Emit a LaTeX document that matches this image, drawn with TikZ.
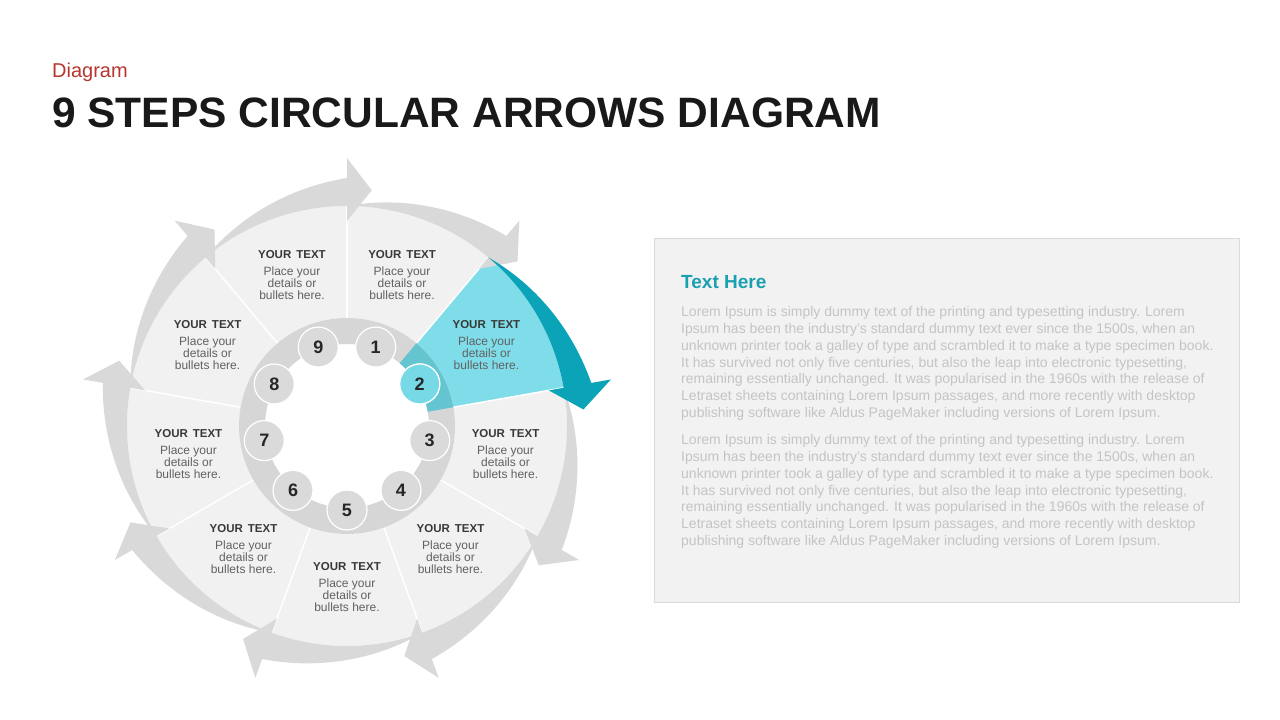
\documentclass[tikz,border=0pt]{standalone}
\usepackage{fontspec}
\setmainfont{Liberation Sans}
\usetikzlibrary{calc}
\definecolor{sectorgray}{RGB}{241,241,241}
\definecolor{arrowgray}{RGB}{217,217,217}
\definecolor{ringgray}{RGB}{214,214,214}
\definecolor{dotgray}{RGB}{218,218,218}
\definecolor{cyanlight}{RGB}{127,221,233}
\definecolor{cyanring}{RGB}{100,197,209}
\definecolor{cyandot}{RGB}{120,217,230}
\definecolor{tealdark}{RGB}{10,163,184}
\definecolor{headred}{RGB}{183,53,45}
\definecolor{headteal}{RGB}{27,160,178}
\definecolor{loremgray}{RGB}{196,196,196}
\definecolor{boxgray}{RGB}{242,242,242}
\definecolor{boxline}{RGB}{218,218,218}
\def\spiralarrow[#1](#2:#3){\fill[#1] (#2:220) arc[start angle=#2, end angle=#3, radius=220] -- (#3:205) -- ({#3-6}:237) -- (#3:268) -- (#3:248) -- plot[domain=#3:#2, samples=40] (\x:{220+28*(#2-\x)/40}) -- cycle;}
\def\wedge[#1](#2:#3:#4:#5){\fill[#1] (#2:#4) -- (#2:#5) arc[start angle=#2, end angle=#3, radius=#5] -- (#3:#4) arc[start angle=#3, end angle=#2, radius=#4] -- cycle;}
\tikzset{
  numdot/.style={circle, minimum size=40pt, inner sep=0pt, fill=dotgray, draw=white, line width=1.2pt,
    font=\fontsize{18}{18}\selectfont\bfseries, text=black!85},
  steptext/.style={align=center, inner sep=0pt, font=\fontsize{12}{12}\selectfont, text=black!62},
  lorem/.style={anchor=north west, inner sep=0pt, align=left, font=\fontsize{14}{16.9}\selectfont, text=loremgray}
}
\begin{document}
\begin{tikzpicture}[x=1pt,y=1pt]
			%%%%% START %%%%%
			\useasboundingbox (0,0) rectangle (1280,720);
			\fill[white] (0,0) rectangle (1280,720);
			
			\node[anchor=base west, inner sep=0pt, font=\fontsize{20}{20}\selectfont, text=headred] (kicker) at (52,642) {Diagram};
			\node[anchor=base west, inner sep=0pt, font=\fontsize{42.5}{42.5}\selectfont\bfseries, text=black!90] (title) at (52,592) {9 STEPS CIRCULAR ARROWS DIAGRAM};
			
			\begin{scope}[shift={(347,294)}]
			% sectors
			\foreach \k in {1,3,4,5,6,7,8,9}{
				\pgfmathsetmacro\s{130-40*\k}
				\pgfmathsetmacro\e{90-40*\k}
				\wedge[sectorgray](\s:\e:108:220)
			}
			\wedge[cyanlight](50:10:108:220)
			\foreach \a in {90,50,...,-230}
				\draw[white, line width=1.5pt] (\a:108) -- (\a:220);
			
			% arrows
			\foreach \k in {1,3,4,5,6,7,8,9}{
				\pgfmathsetmacro\s{130-40*\k}
				\pgfmathsetmacro\e{90-40*\k}
				\spiralarrow[arrowgray](\s:\e)
			}
			\spiralarrow[tealdark](50:10)
			
			% ring
			\fill[ringgray, even odd rule] (0,0) circle (108) (0,0) circle (82);
			\wedge[cyanring](50:10:82:108)
			
			% numbers and texts
			\foreach \k in {1,...,9}{
				\pgfmathsetmacro\c{110-40*\k}
				\node[numdot] (n\k) at (\c:84) {\k};
				\node[steptext] (t\k) at (\c:161) {{\fontsize{11.5}{12}\selectfont\bfseries\color{black!78}YOUR\hskip5pt TEXT}\\[5pt]Place your\\details or\\bullets here.};
			}
			\node[numdot, fill=cyandot] (n2) at (30:84) {2};
			\end{scope}
			
			% text panel
			\draw[fill=boxgray, draw=boxline, line width=0.8pt] (654,482) rectangle (1239,118);
			\node[anchor=base west, inner sep=0pt, font=\fontsize{19}{19}\selectfont\bfseries, text=headteal] (head) at (681,431) {Text Here};
			\node[lorem] (para1) at (681,414) {Lorem Ipsum is simply dummy text of the printing and typesetting industry. Lorem\\
Ipsum has been the industry's standard dummy text ever since the 1500s, when an\\
unknown printer took a galley of type and scrambled it to make a type specimen book.\\
It has survived not only five centuries, but also the leap into electronic typesetting,\\
remaining essentially unchanged. It was popularised in the 1960s with the release of\\
Letraset sheets containing Lorem Ipsum passages, and more recently with desktop\\
publishing software like Aldus PageMaker including versions of Lorem Ipsum.};
			\node[lorem] (para2) at (681,286) {Lorem Ipsum is simply dummy text of the printing and typesetting industry. Lorem\\
Ipsum has been the industry's standard dummy text ever since the 1500s, when an\\
unknown printer took a galley of type and scrambled it to make a type specimen book.\\
It has survived not only five centuries, but also the leap into electronic typesetting,\\
remaining essentially unchanged. It was popularised in the 1960s with the release of\\
Letraset sheets containing Lorem Ipsum passages, and more recently with desktop\\
publishing software like Aldus PageMaker including versions of Lorem Ipsum.};
			%%%%% END %%%%%
\end{tikzpicture}
\end{document}
